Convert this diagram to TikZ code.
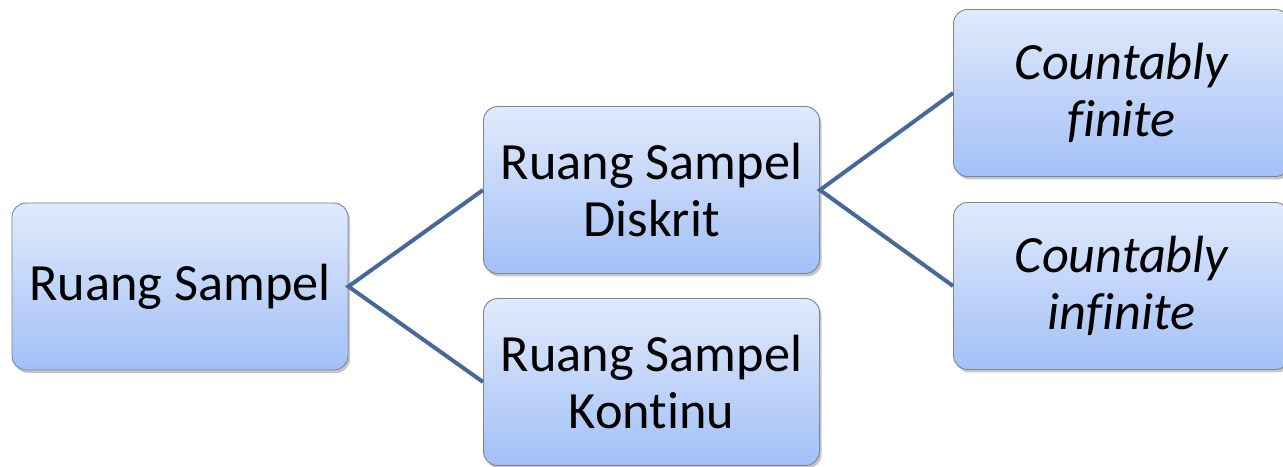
\documentclass[tikz,border=0pt]{standalone}
\usepackage{fontspec}
\setmainfont{Carlito}[Ligatures=NoCommon]
\usetikzlibrary{shadows}
\definecolor{boxtop}{HTML}{E0EAFC}
\definecolor{boxbottom}{HTML}{A3C0F7}
\definecolor{boxline}{HTML}{7A8598}
\definecolor{linkblue}{HTML}{45699B}
\begin{document}
\begin{tikzpicture}[x=1bp, y=-1bp,
	box/.style={rectangle, rounded corners=14bp, draw=boxline, line width=0.9bp,
		top color=boxtop, bottom color=boxbottom,
		minimum width=336bp, minimum height=167bp, align=center, inner sep=0pt,
		font=\fontsize{52.5}{58}\selectfont,
		drop shadow={opacity=0.45, shadow xshift=2bp, shadow yshift=-3bp}},
	link/.style={draw=linkblue, line width=4bp}]
	\useasboundingbox (0,0) rectangle (1283,467);
	\node[box] (RS) at (180,286.5) {Ruang Sampel};
	\node[box] (RSD) at (651.5,190) {Ruang Sampel\\Diskrit};
	\node[box] (RSK) at (651.5,382) {Ruang Sampel\\Kontinu};
	\node[box] (CF) at (1121.5,93) {\itshape Countably\\\itshape finite};
	\node[box] (CI) at (1121.5,286) {\itshape Countably\\\itshape infinite};
	\draw[link] (RSD.west) -- (RS.east) -- (RSK.west);
	\draw[link] (CF.west) -- (RSD.east) -- (CI.west);
\end{tikzpicture}
\end{document}
